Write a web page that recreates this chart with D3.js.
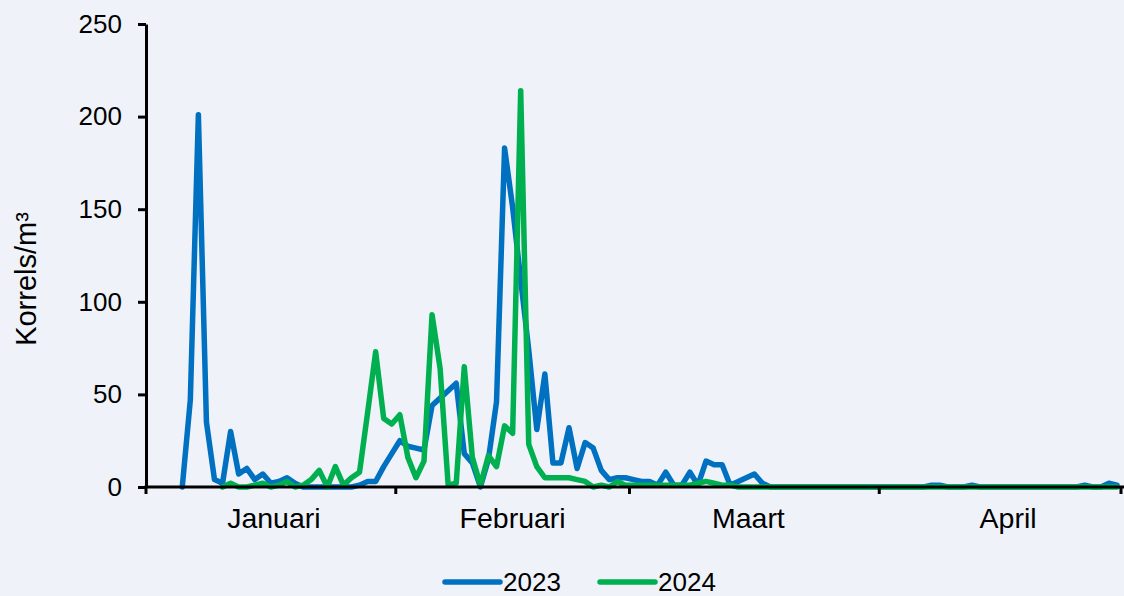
<!DOCTYPE html>
<html>
<head>
<meta charset="utf-8">
<script src="https://cdn.jsdelivr.net/npm/d3@7"></script>
<style>
  html, body { margin: 0; padding: 0; background: #eff3f9; }
  svg { display: block; font-family: "Liberation Sans", Arial, sans-serif; }
</style>
</head>
<body>
<div id="root"></div>
<script>
// daily pollen counts, Jan 1 .. Apr 30 (121 days, Feb with 29 days)
const months = ['Januari', 'Februari', 'Maart', 'April'];
const monthDays = [31, 29, 31, 30];
const yTicks = [0, 50, 100, 150, 200, 250];
const seriesNames = ['2023', '2024'];
const colors = ['#0070c0', '#00b050'];

const v2023 = [
  null, null, null, null, 0, 47, 201, 35, 4, 2,
  30, 7, 10, 4, 7, 2, 3, 5, 2, 0,
  0, 0, 0, 0, 0, 0, 1, 3, 3, 11,
  18, 25, 22, 21, 20, 44, 48, 52, 56, 18,
  13, 0, 15, 46, 183, 151, 112, 74, 31, 61,
  13, 13, 32, 10, 24, 21, 9, 4, 5, 5,
  4, 3, 3, 1, 8, 1, 1, 8, 1, 14,
  12, 12, 1, 3, 5, 7, 2, 0, 0, 0,
  0, 0, 0, 0, 0, 0, 0, 0, 0, 0,
  0, 0, 0, 0, 0, 0, 0, 1, 1, 0,
  0, 0, 1, 0, 0, 0, 0, 0, 0, 0,
  0, 0, 0, 0, 0, 0, 1, 0, 0, 2,
  1
];
const v2024 = [
  null, null, null, null, null, null, null, null, null, 0,
  2, 0, 0, 1, 2, 0, 1, 3, 0, 1,
  4, 9, 0, 11, 1, 5, 8, 40, 73, 37,
  34, 39, 16, 5, 14, 93, 64, 1, 2, 65,
  16, 1, 17, 11, 33, 29, 214, 23, 11, 5,
  5, 5, 5, 4, 3, 0, 1, 0, 3, 1,
  1, 1, 1, 1, 1, 1, 1, 1, 2, 3,
  2, 1, 1, 0, 0, 0, 0, 0, 0, 0,
  0, 0, 0, 0, 0, 0, 0, 0, 0, 0,
  0, 0, 0, 0, 0, 0, 0, 0, 0, 0,
  0, 0, 0, 0, 0, 0, 0, 0, 0, 0,
  0, 0, 0, 0, 0, 0, 0, 0, 0, 0,
  0
];

const width = 1124, height = 596;
const plotL = 146, plotR = 1121, plotT = 24, plotB = 487;

const svg = d3.select('#root').append('svg')
  .attr('width', width)
  .attr('height', height);

const totalDays = d3.sum(monthDays);
const x = d3.scaleLinear().domain([0, totalDays]).range([plotL, plotR]);
const y = d3.scaleLinear().domain([0, 250]).range([plotB, plotT]);

const bounds = [0];
monthDays.forEach(d => bounds.push(bounds[bounds.length - 1] + d));

// y axis
const yAxis = svg.append('g')
  .attr('transform', `translate(${plotL},0)`)
  .call(d3.axisLeft(y).tickValues(yTicks).tickSize(8).tickPadding(16).tickSizeOuter(0));
yAxis.select('.domain').attr('stroke', '#000').attr('stroke-width', 3);
yAxis.selectAll('.tick line').attr('stroke', '#000').attr('stroke-width', 3);
yAxis.selectAll('.tick text')
  .attr('fill', '#000')
  .style('font-size', '26px')
  .style('font-family', '"Liberation Sans", Arial, sans-serif');

svg.append('text')
  .text('Korrels/m³')
  .attr('transform', `translate(36,279) rotate(-90)`)
  .attr('text-anchor', 'middle')
  .style('font-size', '29px')
  .attr('fill', '#000');

// lines
const line = d3.line()
  .defined(d => d != null)
  .x((d, i) => x(i + 0.5))
  .y(d => y(d));

[v2023, v2024].forEach((vals, k) => {
  svg.append('path')
    .datum(vals)
    .attr('fill', 'none')
    .attr('stroke', colors[k])
    .attr('stroke-width', 5.5)
    .attr('stroke-linejoin', 'round')
    .attr('stroke-linecap', 'round')
    .attr('d', line);
});

// x axis
const xg = svg.append('g');
xg.append('line')
  .attr('x1', plotL - 1.5).attr('x2', width)
  .attr('y1', plotB).attr('y2', plotB)
  .attr('stroke', '#000').attr('stroke-width', 3);
xg.selectAll('.tk')
  .data(bounds).enter()
  .append('line')
  .attr('x1', d => x(d)).attr('x2', d => x(d))
  .attr('y1', plotB).attr('y2', plotB + 7)
  .attr('stroke', '#000').attr('stroke-width', 3);
xg.selectAll('.lbl')
  .data(months).enter()
  .append('text')
  .text(d => d)
  .attr('x', (d, i) => x((bounds[i] + bounds[i + 1]) / 2) + (i === 0 ? 3 : i === 2 ? -6 : i === 3 ? 8 : 0))
  .attr('y', 528)
  .attr('text-anchor', 'middle')
  .style('font-size', '28.5px')
  .attr('fill', '#000');

// legend
const legend = svg.append('g').attr('transform', 'translate(445,582)');
const item = legend.selectAll('g')
  .data(seriesNames).enter()
  .append('g')
  .attr('transform', (d, i) => `translate(${i * 155},0)`);
item.append('line')
  .attr('x1', 0).attr('x2', 55)
  .attr('stroke', (d, i) => colors[i])
  .attr('stroke-width', 5.5)
  .attr('stroke-linecap', 'round');
item.append('text')
  .text(d => d)
  .attr('x', 58)
  .attr('y', 9)
  .style('font-size', '26px')
  .attr('fill', '#000');
</script>
</body>
</html>
